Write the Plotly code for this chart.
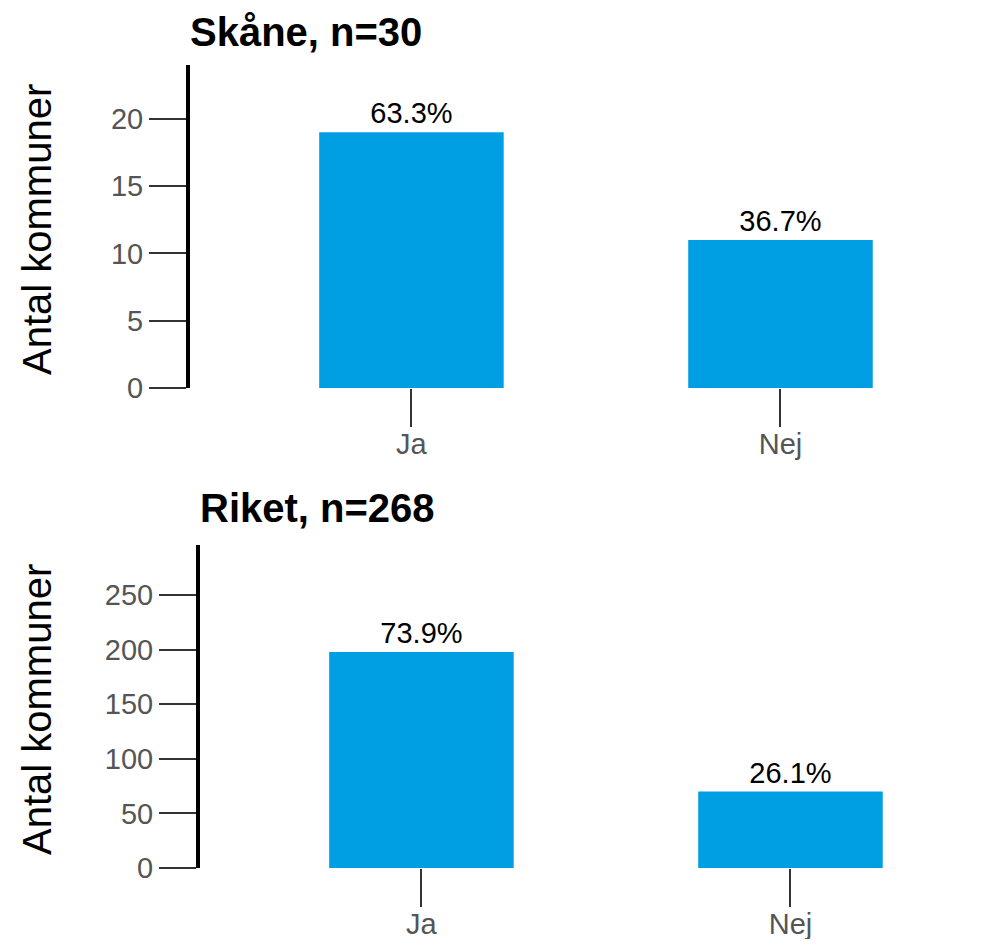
import plotly.graph_objects as go

categories = ["Ja", "Nej"]

skane_counts = [19, 11]
skane_n = 30

riket_counts = [198, 70]
riket_n = 268

bar_color = "#009FE3"
font_family = "Liberation Sans, Arial, sans-serif"

# the page body has an 8px margin, so the figure is made 16px smaller
W, H = 976, 931


def px_x(p):
    return p / W


def px_y(p):
    return 1 - p / H


def pct_text(counts, n):
    return [f"{c / n * 100:.1f}%" for c in counts]


fig = go.Figure()

fig.add_trace(go.Bar(
    x=categories, y=skane_counts,
    text=pct_text(skane_counts, skane_n),
    textposition="outside",
    textfont=dict(size=29, color="black", family=font_family),
    marker=dict(color=bar_color, line_width=0),
    width=0.5, cliponaxis=False,
    xaxis="x", yaxis="y",
))

fig.add_trace(go.Bar(
    x=categories, y=riket_counts,
    text=pct_text(riket_counts, riket_n),
    textposition="outside",
    textfont=dict(size=29, color="black", family=font_family),
    marker=dict(color=bar_color, line_width=0),
    width=0.5, cliponaxis=False,
    xaxis="x2", yaxis="y2",
))

xaxis_style = dict(
    showline=False, showgrid=False, zeroline=False, automargin=False,
    ticks="outside", ticklen=38, tickwidth=2, tickcolor="#333333",
    ticklabelstandoff=-8,
    tickfont=dict(size=29, color="#555555", family=font_family),
    range=[-0.6, 1.5],
)
yaxis_style = dict(
    showline=True, linewidth=4, linecolor="black",
    showgrid=False, zeroline=False, automargin=False,
    ticks="outside", ticklen=37, tickwidth=2, tickcolor="#333333",
    tickfont=dict(size=29, color="#555555", family=font_family),
)

fig.update_layout(
    width=W, height=H,
    margin=dict(l=0, r=0, t=0, b=0),
    plot_bgcolor="white", paper_bgcolor="white",
    showlegend=False,
    xaxis=dict(xaxis_style, domain=[px_x(182), px_x(957)], anchor="y"),
    yaxis=dict(yaxis_style, domain=[px_y(380), px_y(57)], anchor="x",
               range=[0, 24], dtick=5),
    xaxis2=dict(xaxis_style, domain=[px_x(192), px_x(967)], anchor="y2"),
    yaxis2=dict(yaxis_style, domain=[px_y(860), px_y(537)], anchor="x2",
                range=[0, 296], dtick=50),
)

# panel titles
fig.add_annotation(
    text=f"<b>Skåne, n={skane_n}</b>", xref="paper", yref="paper",
    x=px_x(180), y=1, xanchor="left", yanchor="top",
    showarrow=False, font=dict(size=40, color="black", family=font_family),
)
fig.add_annotation(
    text=f"<b>Riket, n={riket_n}</b>", xref="paper", yref="paper",
    x=px_x(190), y=px_y(500), xanchor="left", yanchor="middle",
    showarrow=False, font=dict(size=40, color="black", family=font_family),
)

# y-axis titles
for yc in [222, 702]:
    fig.add_annotation(
        text="Antal kommuner", xref="paper", yref="paper",
        x=px_x(29), y=px_y(yc), xanchor="center", yanchor="middle",
        textangle=-90, showarrow=False,
        font=dict(size=40, color="black", family=font_family),
    )

fig.write_html("out.html")
